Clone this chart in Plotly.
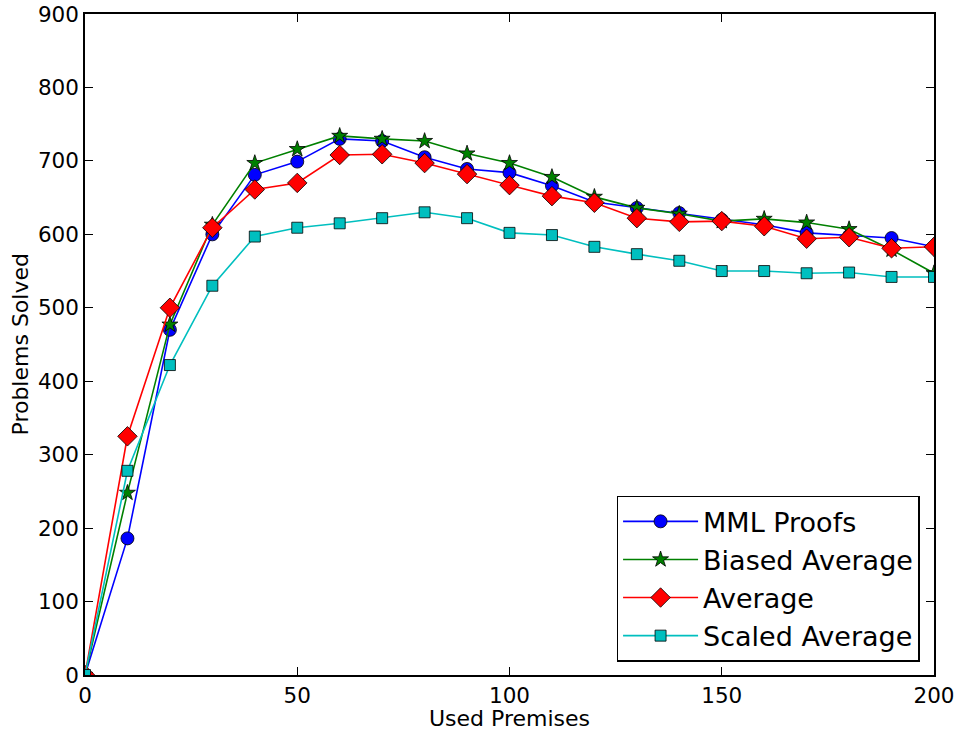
import plotly.graph_objects as go

x = [0, 10, 20, 30, 40, 50, 60, 70, 80, 90, 100, 110, 120, 130, 140, 150, 160, 170, 180, 190, 200]
mml = [0, 186, 470, 600, 681, 699, 730, 727, 705, 689, 684, 666, 644, 636, 629, 620, 613, 602, 598, 595, 583]
biased = [0, 248, 477, 613, 697, 716, 734, 730, 727, 710, 697, 678, 651, 636, 628, 618, 621, 616, 607, 579, 547]
average = [0, 325, 500, 609, 661, 670, 708, 709, 697, 682, 667, 652, 643, 622, 617, 618, 611, 594, 596, 581, 583]
scaled = [0, 278, 422, 530, 597, 609, 615, 622, 630, 622, 602, 599, 583, 573, 564, 550, 550, 547, 548, 542, 542]

series = [
    ("MML Proofs", mml, "#0000ff", "circle", 13),
    ("Biased Average", biased, "#008000", "star", 12),
    ("Average", average, "#ff0000", "diamond", 15),
    ("Scaled Average", scaled, "#00bfbf", "square", 11),
]

fig = go.Figure()
for name, ys, col, sym, sz in series:
    fig.add_trace(go.Scatter(
        x=x, y=ys, name=name, mode="lines+markers",
        line=dict(color=col, width=1.6),
        marker=dict(symbol=sym, size=sz, color=col, line=dict(color="black", width=0.8)),
        cliponaxis=True,
    ))

axis_common = dict(
    showgrid=False, zeroline=False, showline=True, linecolor="black", linewidth=1.5,
    mirror="ticks", ticks="inside", ticklen=8, tickcolor="black", tickwidth=1,
    tickfont=dict(family="DejaVu Sans", size=21.5, color="black"),
    automargin=False, ticklabeloverflow="allow",
)

fig.update_layout(
    width=960, height=731,
    margin=dict(l=85, r=26, t=14, b=56),
    paper_bgcolor="white", plot_bgcolor="white",
    font=dict(family="DejaVu Sans", color="black"),
    xaxis=dict(range=[0, 200], tickvals=[0, 50, 100, 150, 200],
               title=dict(text="Used Premises", font=dict(size=22), standoff=0), **axis_common),
    yaxis=dict(range=[0, 900], tickvals=list(range(0, 901, 100)), **axis_common),
    legend=dict(x=0.983, y=0.02, xanchor="right", yanchor="bottom",
                bgcolor="white", bordercolor="black", borderwidth=1.5,
                font=dict(size=27, family="DejaVu Sans"), itemwidth=75),
    annotations=[dict(text="Problems Solved", textangle=-90, xref="paper", yref="paper",
                      x=(20 - 85) / 849, y=0.5, xanchor="center", yanchor="middle",
                      showarrow=False, font=dict(size=22))],
)

fig.write_html("out.html", config={"displayModeBar": False},
               post_script="document.body.style.margin='0';")
